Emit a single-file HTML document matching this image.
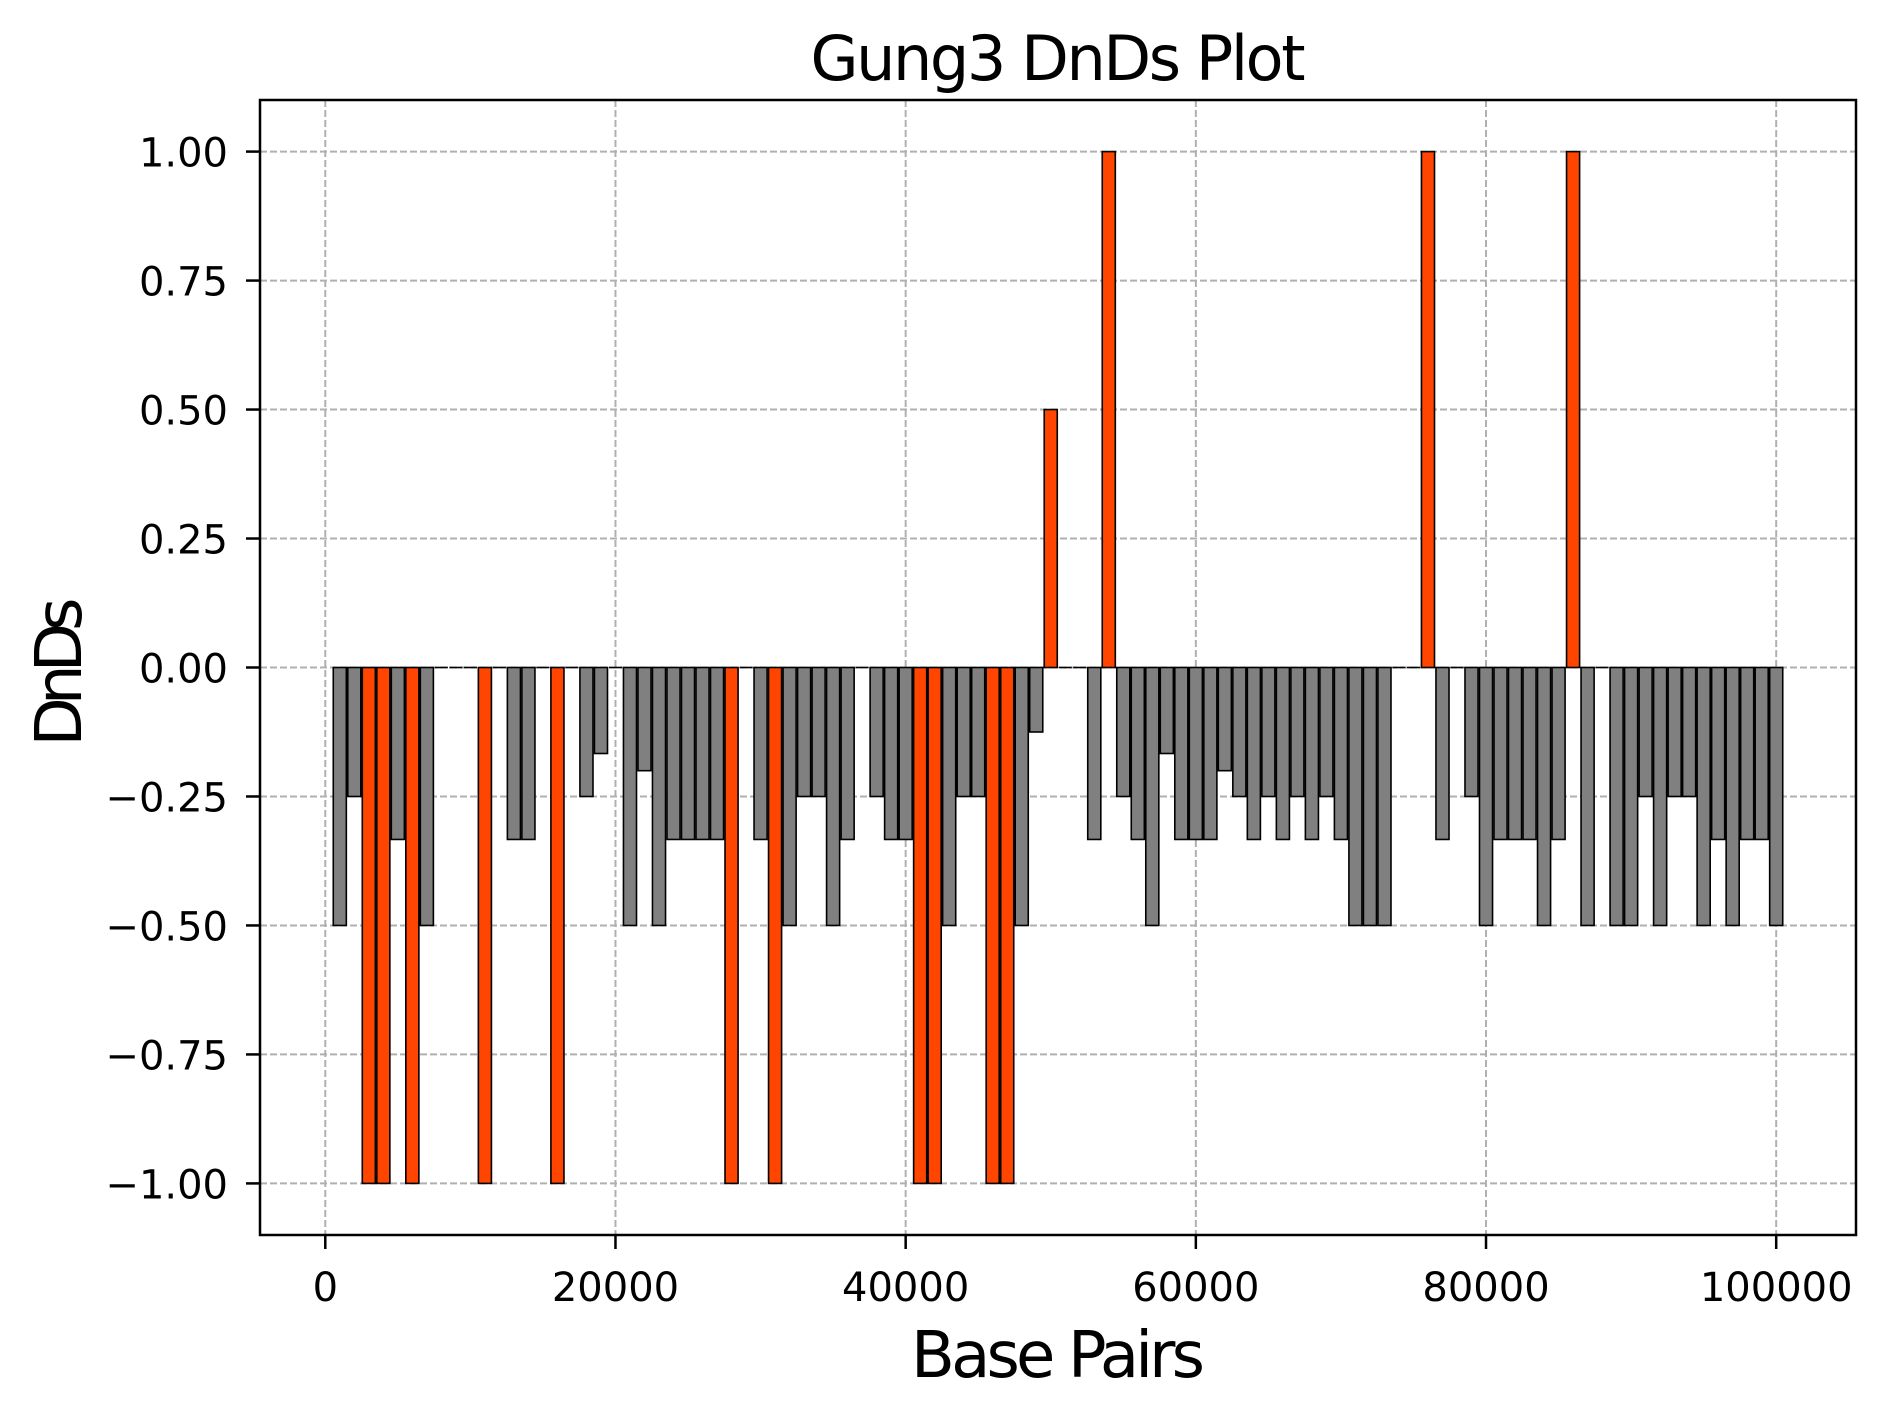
<!DOCTYPE html>
<html><head><meta charset="utf-8"><style>
html,body{margin:0;padding:0;background:#fff;}
svg text{font-family:"DejaVu Sans","Liberation Sans",sans-serif;fill:#000;}
</style></head><body>
<svg id="chart" width="1885" height="1410" viewBox="0 0 1885 1410" xmlns="http://www.w3.org/2000/svg">
<rect x="0" y="0" width="1885" height="1410" fill="#fff"/>
<g id="grid"></g>
<g id="bars"></g>
<rect x="260" y="100" width="1596" height="1135" fill="none" stroke="#000" stroke-width="2.5"/>
<g id="xaxis"></g>
<g id="yaxis"></g>
<text x="1058" y="80" font-size="62" text-anchor="middle" textLength="495">Gung3 DnDs Plot</text>
<text x="1058" y="1377" font-size="64" text-anchor="middle" textLength="294">Base Pairs</text>
<text transform="translate(81,672) rotate(-90)" font-size="64" text-anchor="middle" textLength="149">DnDs</text>
</svg>
<script>
const positions = [1000,2000,3000,4000,5000,6000,7000,8000,9000,10000,11000,12000,13000,14000,15000,16000,17000,18000,19000,20000,21000,22000,23000,24000,25000,26000,27000,28000,29000,30000,31000,32000,33000,34000,35000,36000,37000,38000,39000,40000,41000,42000,43000,44000,45000,46000,47000,48000,49000,50000,51000,52000,53000,54000,55000,56000,57000,58000,59000,60000,61000,62000,63000,64000,65000,66000,67000,68000,69000,70000,71000,72000,73000,74000,75000,76000,77000,78000,79000,80000,81000,82000,83000,84000,85000,86000,87000,88000,89000,90000,91000,92000,93000,94000,95000,96000,97000,98000,99000,100000];
const dnds = [-0.5,-0.25,-1,-1,-0.3333,-1,-0.5,0,0,0,-1,0,-0.3333,-0.3333,0,-1,0,-0.25,-0.1667,0,
-0.5,-0.2,-0.5,-0.3333,-0.3333,-0.3333,-0.3333,-1,0,-0.3333,-1,-0.5,-0.25,-0.25,-0.5,-0.3333,0,-0.25,-0.3333,-0.3333,
-1,-1,-0.5,-0.25,-0.25,-1,-1,-0.5,-0.125,0.5,0,0,-0.3333,1,-0.25,-0.3333,-0.5,-0.1667,-0.3333,-0.3333,
-0.3333,-0.2,-0.25,-0.3333,-0.25,-0.3333,-0.25,-0.3333,-0.25,-0.3333,-0.5,-0.5,-0.5,0,0,1,-0.3333,0,-0.25,-0.5,
-0.3333,-0.3333,-0.3333,-0.5,-0.3333,1,-0.5,0,-0.5,-0.5,-0.25,-0.5,-0.25,-0.25,-0.5,-0.3333,-0.5,-0.3333,-0.3333,-0.5];
const xTicks = [0,20000,40000,60000,80000,100000];
const xTickLabels = ["0","20000","40000","60000","80000","100000"];
const yTicks = [1,0.75,0.5,0.25,0,-0.25,-0.5,-0.75,-1];
const yTickLabels = ["1.00","0.75","0.50","0.25","0.00","\u22120.25","\u22120.50","\u22120.75","\u22121.00"];
const barWidth = 900;

const NS = "http://www.w3.org/2000/svg";
const X0 = 260, X1 = 1856, Y0 = 100, Y1 = 1235;
const xMin = -4500, xMax = 105500, yMin = -1.1, yMax = 1.1;
function xs(v){ return X0 + (v - xMin) / (xMax - xMin) * (X1 - X0); }
function ys(v){ return Y1 - (v - yMin) / (yMax - yMin) * (Y1 - Y0); }
function mk(tag, attrs, parent){ const e = document.createElementNS(NS, tag); for (const k in attrs) e.setAttribute(k, attrs[k]); parent.appendChild(e); return e; }

const grid = document.getElementById('grid');
const xa = document.getElementById('xaxis');
const ya = document.getElementById('yaxis');
xTicks.forEach((t, i) => {
  const x = xs(t);
  const g = mk('line', {x1:x, x2:x, y1:Y0, y2:Y1, stroke:'#b0b0b0', 'stroke-width':2, 'stroke-dasharray':'7,3'}, grid);
  
  
  const tk = mk('line', {x1:x, x2:x, y1:Y1, y2:Y1+14, stroke:'#000', 'stroke-width':2.5}, xa);
  
  
  const tx = mk('text', {x:x, y:1301, 'font-size':40, 'text-anchor':'middle'}, xa);
  tx.textContent = xTickLabels[i];
  
  
});
yTicks.forEach((t, i) => {
  const y = ys(t);
  const g = mk('line', {x1:X0, x2:X1, y1:y, y2:y, stroke:'#b0b0b0', 'stroke-width':2, 'stroke-dasharray':'7,3'}, grid);
  
  
  const tk = mk('line', {x1:X0-14, x2:X0, y1:y, y2:y, stroke:'#000', 'stroke-width':2.5}, ya);
  
  
  const tx = mk('text', {x:228, y:y+15, 'font-size':40, 'text-anchor':'end'}, ya);
  tx.textContent = yTickLabels[i];
  
  
});
const bars = document.getElementById('bars');
positions.forEach((p, i) => {
  const v = dnds[i];
  const xl = xs(p - barWidth/2), xr = xs(p + barWidth/2);
  const y0 = ys(0), yv = ys(v);
  if (v === 0) {
    const l = mk('line', {x1:xl, x2:xr, y1:y0, y2:y0, stroke:'#000', 'stroke-width':1.6}, bars);
    
    
    return;
  }
  const hi = (v > 0 || v <= -1);
  const r = mk('rect', {x:xl, y:Math.min(y0,yv), width:xr-xl, height:Math.abs(yv-y0),
    fill: hi ? '#ff4500' : '#808080', stroke:'#000', 'stroke-width':1.6}, bars);
  
  
});
</script>
</body></html>
